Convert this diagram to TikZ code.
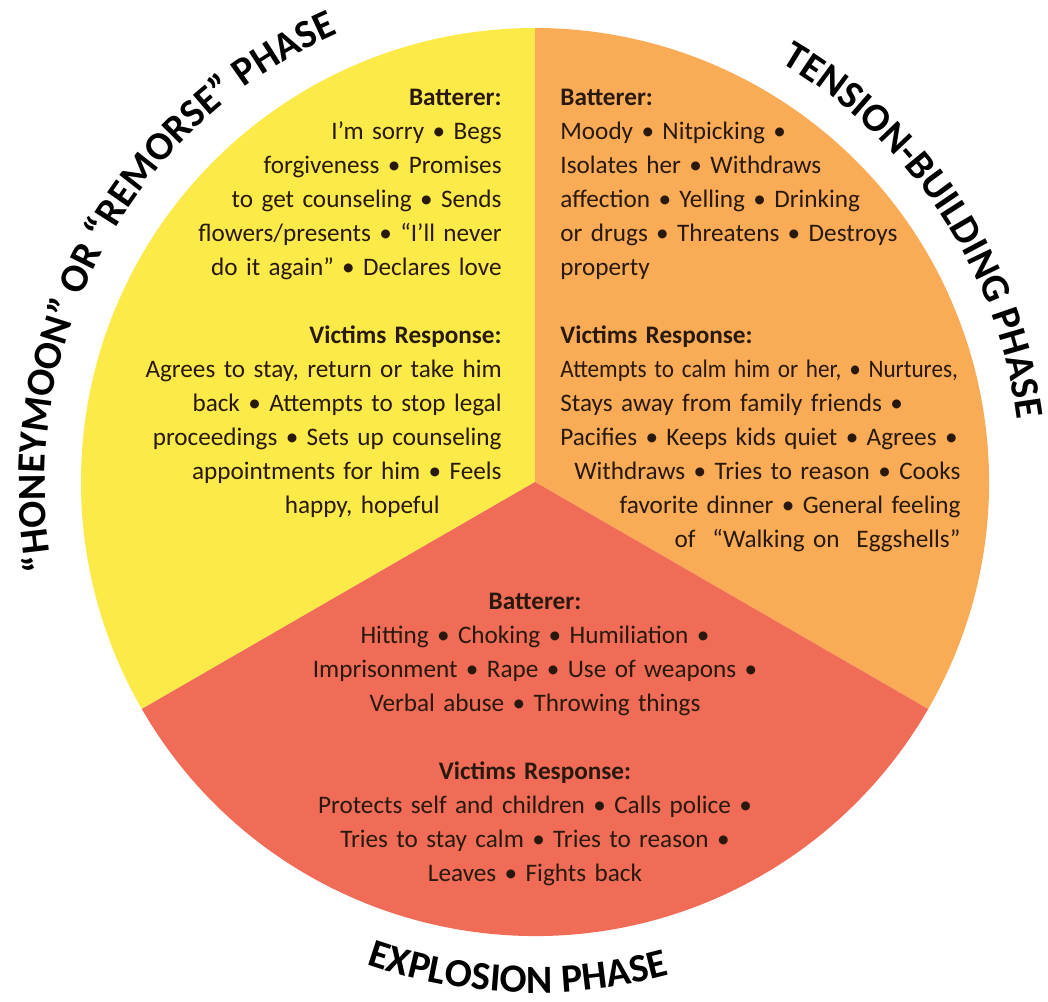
\documentclass[tikz,border=0pt]{standalone}
\usepackage{fontspec}
\usepackage{graphicx}
\setmainfont{Carlito}
\usetikzlibrary{calc,decorations.text}
\definecolor{secyellow}{RGB}{252,234,72}
\definecolor{secorange}{RGB}{249,171,86}
\definecolor{secred}{RGB}{240,108,86}
\definecolor{bodytext}{RGB}{40,25,12}
\newcommand\squeezeline[2]{\scalebox{#1}[1]{#2}}
\begin{document}
\begin{tikzpicture}[x=0.5pt,y=0.5pt,
  bodyblock/.style={inner sep=0pt, font=\fontsize{12.6}{17}\selectfont, text=bodytext},
  phaselabel/.style={decorate, decoration={text along path, text align=center,
      text={|\bfseries\fontsize{20}{24}\selectfont|#1}}}]
\useasboundingbox[fill=white] (0,0) rectangle (1048,1001);
\coordinate (C) at (535,519);
% sectors
\fill[secyellow] (C) -- ($(C)+(90:454)$) arc[start angle=90,end angle=210,radius=454] -- cycle;
\fill[secorange] (C) -- ($(C)+(-30:454)$) arc[start angle=-30,end angle=90,radius=454] -- cycle;
\fill[secred] (C) -- ($(C)+(210:454)$) arc[start angle=210,end angle=330,radius=454] -- cycle;
% curved phase labels
\path[phaselabel={“HONEYMOON” OR “REMORSE” PHASE}]
  ($(C)+(211:490)$) arc[start angle=211,end angle=93,radius=490];
\path[phaselabel={TENSION-BUILDING PHASE}]
  ($(C)+(82:486)$) arc[start angle=82,end angle=-15,radius=486];
\path[phaselabel={EXPLOSION PHASE}]
  ($(C)+(225:511)$) arc[start angle=225,end angle=311,radius=511];
% texts
\node[bodyblock, anchor=north east, text width=210pt, align=right] (honey) at (502,912)
 {\textbf{Batterer:}\\
  I’m sorry • Begs\\
  forgiveness • Promises\\
  to get counseling • Sends\\
  flowers/presents • “I’ll never\\
  do it again” • Declares love\\[17pt]
  \textbf{Victims Response:}\\
  Agrees to stay, return or take him\\
  back • Attempts to stop legal\\
  proceedings • Sets up counseling\\
  appointments for him • Feels\\
  happy, hopeful\hspace*{31pt}};
\node[bodyblock, anchor=north west, text width=200pt, align=left] (tension) at (560,912)
 {\textbf{Batterer:}\\
  Moody • Nitpicking •\\
  Isolates her • Withdraws\\
  affection • Yelling • Drinking\\
  or drugs • Threatens • Destroys\\
  property\\[17pt]
  \textbf{Victims Response:}\\
  \squeezeline{0.92}{Attempts to calm him or her, • Nurtures,}\\
  Stays away from family friends •\\
  Pacifies • Keeps kids quiet • Agrees •\\
  \hspace*{\fill}Withdraws • Tries to reason • Cooks\\
  \hspace*{\fill}favorite dinner • General feeling\\
  \hspace*{\fill}of \ “Walking on \ Eggshells”};
\node[bodyblock, anchor=north, text width=270pt, align=center] (explosion) at (535,408)
 {\textbf{Batterer:}\\
  Hitting • Choking • Humiliation •\\
  Imprisonment • Rape • Use of weapons •\\
  Verbal abuse • Throwing things\\[17pt]
  \textbf{Victims Response:}\\
  Protects self and children • Calls police •\\
  Tries to stay calm • Tries to reason •\\
  Leaves • Fights back};
\end{tikzpicture}
\end{document}
